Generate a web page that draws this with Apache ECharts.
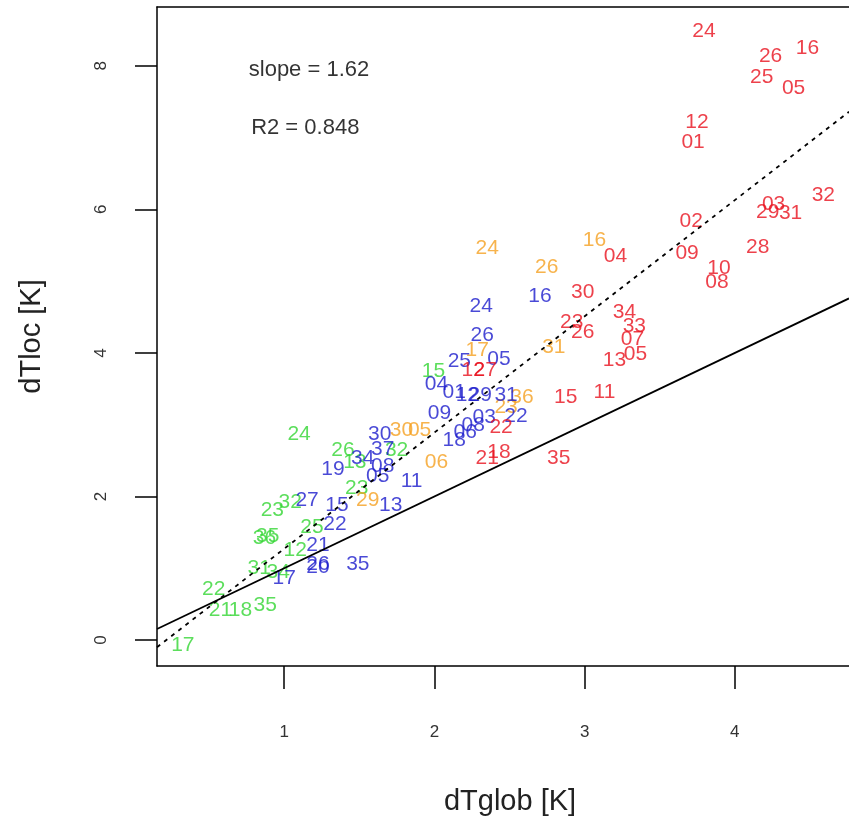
<!DOCTYPE html>
<html>
<head>
<meta charset="utf-8">
<script src="https://cdn.jsdelivr.net/npm/echarts@6/dist/echarts.min.js"></script>
<style>
html,body{margin:0;padding:0;background:#fff;}
#chart{width:849px;height:827px;}
</style>
</head>
<body>
<div id="chart"></div>
<script>
// x = dTglob [K], y = dTloc [K], label
const redPts = [
  [3.795,8.48,'24'],[4.238,8.13,'26'],[4.483,8.25,'16'],[4.179,7.84,'25'],[4.391,7.69,'05'],
  [3.748,7.21,'12'],[3.722,6.94,'01'],[4.589,6.20,'32'],[4.258,6.07,'03'],[4.219,5.96,'29'],
  [4.371,5.95,'31'],[3.709,5.84,'02'],[3.682,5.39,'09'],[3.205,5.35,'04'],[4.152,5.47,'28'],
  [3.894,5.18,'10'],[3.881,4.99,'08'],[2.987,4.85,'30'],[3.265,4.57,'34'],[2.914,4.43,'23'],
  [3.331,4.37,'33'],[2.987,4.29,'26'],[3.318,4.19,'07'],[3.338,3.98,'05'],[3.199,3.90,'13'],
  [2.874,3.38,'15'],[3.132,3.45,'11'],[2.444,2.97,'22'],[2.430,2.62,'18'],[2.351,2.53,'21'],
  [2.828,2.53,'35'],[2.258,3.76,'12'],[2.338,3.76,'27']
];
const orangePts = [
  [2.351,5.46,'24'],[3.066,5.57,'16'],[2.748,5.19,'26'],[2.795,4.08,'31'],[2.583,3.38,'36'],
  [2.285,4.04,'17'],[2.013,2.48,'06'],[1.781,2.92,'30'],[1.901,2.92,'05'],[1.556,1.95,'29'],
  [2.477,3.25,'23']
];
const bluePts = [
  [2.311,4.65,'24'],[2.318,4.25,'26'],[2.702,4.79,'16'],[2.166,3.89,'25'],[2.430,3.91,'05'],
  [2.013,3.57,'04'],[2.132,3.45,'01'],[2.219,3.41,'12'],[2.305,3.41,'29'],[2.477,3.41,'31'],
  [2.033,3.16,'09'],[2.331,3.11,'03'],[2.543,3.12,'22'],[2.258,2.99,'08'],[2.205,2.90,'06'],
  [2.132,2.79,'18'],[1.636,2.87,'30'],[1.656,2.66,'37'],[1.523,2.53,'34'],[1.325,2.38,'19'],
  [1.656,2.42,'08'],[1.623,2.28,'05'],[1.848,2.21,'11'],[1.709,1.88,'13'],[1.152,1.95,'27'],
  [1.351,1.88,'15'],[1.338,1.62,'22'],[1.225,1.32,'21'],[1.225,1.02,'20'],[1.225,1.06,'26'],
  [1.490,1.06,'35'],[1.000,0.86,'17']
];
const greenPts = [
  [1.993,3.75,'15'],[1.099,2.87,'24'],[1.391,2.65,'26'],[1.470,2.48,'13'],[1.748,2.65,'32'],
  [1.483,2.12,'23'],[0.921,1.81,'23'],[1.040,1.92,'32'],[0.868,1.42,'36'],[0.890,1.44,'35'],
  [1.185,1.57,'25'],[1.073,1.25,'12'],[0.834,1.00,'31'],[0.960,0.95,'34'],[0.530,0.71,'22'],
  [0.576,0.42,'21'],[0.709,0.42,'18'],[0.874,0.49,'35'],[0.325,-0.07,'17']
];
// reference lines (1:1 and fitted, slope 1.62)
const oneToOneLine = [[0.153,0.153],[4.76,4.76]];
const fitLine = [[0.153,-0.10],[4.76,7.36]];
// annotations
const annotations = [[1.165,7.95,'slope = 1.62'],[1.140,7.13,'R2 = 0.848']];
const xTicks = [1,2,3,4];
const yTicks = [0,2,4,6,8];

const FONT = 'Liberation Sans';
const chart = echarts.init(document.getElementById('chart'));

function textSeries(pts, color, size){
  return {
    type:'scatter', data: pts, symbolSize: 0, silent:true,
    label:{show:true, position:'inside', formatter: p => p.value[2],
      color: color, fontSize: size, fontFamily: FONT},
    emphasis:{disabled:true}
  };
}

chart.setOption({
  animation:false,
  backgroundColor:'#fff',
  grid:{left:157, right:0, top:7, bottom:161, show:false},
  xAxis:[{
    type:'value', min:0.153, max:4.76,
    name:'dTglob [K]', nameLocation:'middle', nameGap:121,
    nameTextStyle:{fontSize:29, color:'#222', fontFamily:FONT, padding:[0,0,0,14]},
    axisLine:{show:true, onZero:false, lineStyle:{color:'#000', width:1.5}},
    axisTick:{show:true, length:23, customValues:xTicks, lineStyle:{color:'#000', width:1.5}},
    axisLabel:{customValues:xTicks, margin:58, fontSize:17, color:'#333', fontFamily:FONT},
    splitLine:{show:false}
  },{
    type:'value', position:'top', min:0.153, max:4.76,
    axisLine:{show:true, onZero:false, lineStyle:{color:'#000', width:1.5}},
    axisTick:{show:false}, axisLabel:{show:false}, splitLine:{show:false}
  }],
  yAxis:{
    type:'value', min:-0.362, max:8.82,
    name:'dTloc [K]', nameLocation:'middle', nameGap:111,
    nameTextStyle:{fontSize:29, color:'#222', fontFamily:FONT},
    axisLine:{show:true, onZero:false, lineStyle:{color:'#000', width:1.5}},
    axisTick:{show:true, length:22, customValues:yTicks, lineStyle:{color:'#000', width:1.5}},
    axisLabel:{customValues:yTicks, rotate:90, margin:47, fontSize:17, color:'#333', fontFamily:FONT},
    splitLine:{show:false}
  },
  series:[
    textSeries(greenPts,'#33d633',21),
    textSeries(orangePts,'#f5a020',21),
    textSeries(bluePts,'#1c1ccc',21),
    textSeries(redPts,'#e8121e',21),
    textSeries(annotations,'#000',22),
    {type:'line', data:oneToOneLine, symbol:'none', silent:true,
      lineStyle:{color:'#000', width:1.8, type:'solid'}},
    {type:'line', data:fitLine, symbol:'none', silent:true,
      lineStyle:{color:'#000', width:1.8, type:[4,5]}}
  ]
});
</script>
</body>
</html>
